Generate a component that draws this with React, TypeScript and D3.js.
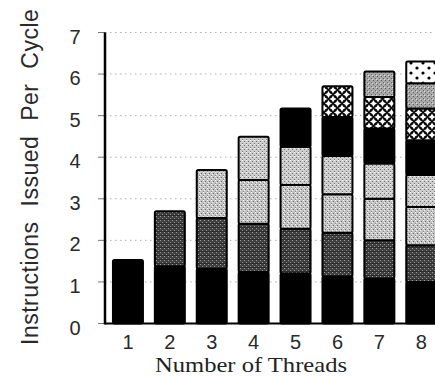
import React from "react";
import * as d3 from "d3";

const threads = ["1", "2", "3", "4", "5", "6", "7", "8"];
const yTicks = [0, 1, 2, 3, 4, 5, 6, 7];
const seriesKeys = ["t1", "t2", "t3", "t4", "t5", "t6", "t7", "t8"];
const t1 = [1.53, 1.38, 1.32, 1.24, 1.2, 1.13, 1.08, 1.0];
const t2 = [0, 1.32, 1.22, 1.16, 1.08, 1.05, 0.92, 0.88];
const t3 = [0, 0, 1.15, 1.05, 1.05, 0.93, 1.0, 0.92];
const t4 = [0, 0, 0, 1.04, 0.92, 0.92, 0.85, 0.77];
const t5 = [0, 0, 0, 0, 0.92, 0.94, 0.84, 0.84];
const t6 = [0, 0, 0, 0, 0, 0.74, 0.76, 0.76];
const t7 = [0, 0, 0, 0, 0, 0, 0.61, 0.61];
const t8 = [0, 0, 0, 0, 0, 0, 0, 0.52];
const yTitle = "Instructions Issued Per Cycle";
const xTitle = "Number of Threads";

const fills: Record<string, string> = {
  t1: "#000",
  t2: "url(#p2)",
  t3: "url(#p3)",
  t4: "url(#p4)",
  t5: "#000",
  t6: "url(#p6)",
  t7: "url(#p7)",
  t8: "url(#p8)",
};

const star = (cx: number, cy: number, r: number) =>
  `M${cx} ${cy - r} L${cx + r * 0.35} ${cy - r * 0.35} L${cx + r} ${cy} L${cx + r * 0.35} ${cy + r * 0.35} L${cx} ${cy + r} L${cx - r * 0.35} ${cy + r * 0.35} L${cx - r} ${cy} L${cx - r * 0.35} ${cy - r * 0.35} Z`;

export default function App() {
  const W = 435, H = 376;
  const rows = threads.map((t, i) => ({
    thread: t, t1: t1[i], t2: t2[i], t3: t3[i], t4: t4[i], t5: t5[i], t6: t6[i], t7: t7[i], t8: t8[i],
  }));
  const stacked = d3.stack<any>().keys(seriesKeys)(rows);
  const x = d3.scaleBand().domain(threads).range([107, 442.2]).paddingInner(0.284).paddingOuter(0.142);
  const y = d3.scaleLinear().domain([0, 7]).range([323.5, 32.5]);
  const axisX = 105;
  const sans = "'Liberation Sans', Arial, Helvetica, sans-serif";
  const serif = "'Liberation Serif', 'Times New Roman', serif";

  return (
    <svg width={W} height={H} style={{ position: "absolute", left: 0, top: 0, background: "#fff" }}>
      <defs>
        <pattern id="p2" width="4" height="4" patternUnits="userSpaceOnUse">
          <rect width="4" height="4" fill="#404040" />
          <rect x="0" y="0" width="1" height="1" fill="#a0a0a0" />
          <rect x="2" y="2" width="1" height="1" fill="#909090" />
          <rect x="0" y="3" width="4" height="1" fill="#2c2c2c" />
        </pattern>
        <pattern id="p3" width="4" height="4" patternUnits="userSpaceOnUse">
          <rect width="4" height="4" fill="#c4c4c4" />
          <rect x="1" y="1" width="1" height="1" fill="#6a6a6a" />
          <rect x="3" y="3" width="1" height="1" fill="#888" />
          <rect x="3" y="0" width="1" height="1" fill="#f2f2f2" />
          <rect x="0" y="2" width="1" height="1" fill="#f2f2f2" />
        </pattern>
        <pattern id="p4" width="4" height="4" patternUnits="userSpaceOnUse">
          <rect width="4" height="4" fill="#cdcdcd" />
          <rect x="0" y="1" width="1" height="1" fill="#707070" />
          <rect x="2" y="3" width="1" height="1" fill="#7a7a7a" />
          <rect x="2" y="0" width="1" height="1" fill="#f4f4f4" />
        </pattern>
        <pattern id="p6" width="9" height="9" patternUnits="userSpaceOnUse">
          <rect width="9" height="9" fill="#0a0a0a" />
          <path d={star(4.5, 4.5, 3.6)} fill="#fff" />
          <path d={[star(0, 0, 3.6), star(9, 0, 3.6), star(0, 9, 3.6), star(9, 9, 3.6)].join(" ")} fill="#fff" />
        </pattern>
        <pattern id="p7" width="4" height="4" patternUnits="userSpaceOnUse">
          <rect width="4" height="4" fill="#a8a8a8" />
          <rect x="1" y="0" width="1" height="1" fill="#555" />
          <rect x="3" y="2" width="1" height="1" fill="#666" />
          <rect x="0" y="3" width="1" height="1" fill="#e0e0e0" />
        </pattern>
        <pattern id="p8" width="12" height="10" patternUnits="userSpaceOnUse">
          <rect width="12" height="10" fill="#fff" />
          <circle cx="3" cy="3" r="1.6" fill="#000" />
          <circle cx="9" cy="8" r="1.6" fill="#000" />
        </pattern>
      </defs>

      {/* gridlines */}
      {yTicks.filter((v) => v > 0).map((v) => (
        <line key={"g" + v} x1={axisX} x2={W} y1={y(v)} y2={y(v)} stroke="#9a9a9a" strokeWidth={0.8} strokeDasharray="1.5,3.5" />
      ))}
      {/* tick marks */}
      {yTicks.map((v) => (
        <line key={"t" + v} x1={98} x2={axisX} y1={y(v)} y2={y(v)} stroke="#777" strokeWidth={1} />
      ))}
      {/* y tick labels */}
      {yTicks.map((v) => (
        <text key={"l" + v} x={75} y={y(v) + 11} fontSize={20} fontFamily={sans} textAnchor="middle" fill="#2a2a2a">{v}</text>
      ))}

      {/* bars */}
      {stacked.map((s) => (
        <g key={s.key}>
          {s.map((d, i) => {
            if (d[1] - d[0] <= 0) return null;
            const bx = x(threads[i])!;
            return (
              <rect key={i} x={bx} y={y(d[1])} width={x.bandwidth()} height={y(d[0]) - y(d[1])}
                fill={fills[s.key]} stroke="#000" strokeWidth={2} rx={1.5} />
            );
          })}
        </g>
      ))}

      {/* axes */}
      <line x1={axisX} x2={axisX} y1={y(7)} y2={y(0) + 1} stroke="#000" strokeWidth={2.5} />
      <line x1={axisX} x2={W} y1={y(0)} y2={y(0)} stroke="#000" strokeWidth={2} />

      {/* x tick labels */}
      {threads.map((t) => (
        <text key={"x" + t} x={x(t)! + x.bandwidth() / 2} y={348.5} fontSize={20} fontFamily={sans} textAnchor="middle" fill="#2a2a2a">{t}</text>
      ))}

      <text x={155} y={371.5} fontSize={21} fontFamily={serif} textLength={192} lengthAdjust="spacingAndGlyphs" fill="#222">{xTitle}</text>
      <text transform="translate(38,345) rotate(-90)" x={0} y={0} fontSize={23} fontFamily={sans} letterSpacing={0.5} wordSpacing={8} fill="#2a2a2a">{yTitle}</text>
    </svg>
  );
}
